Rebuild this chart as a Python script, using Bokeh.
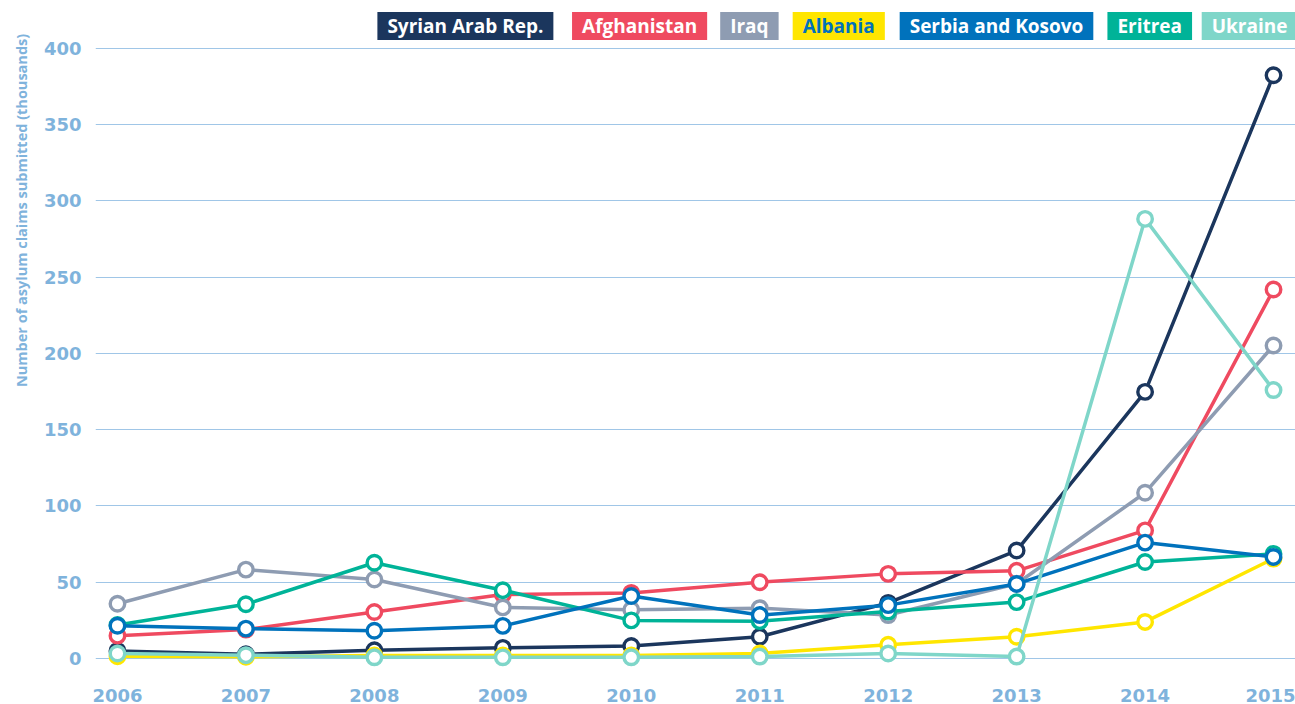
import math
from bokeh.plotting import figure
from bokeh.layouts import row
from bokeh.models import Range1d, Label, FixedTicker, ColumnDataSource
from bokeh.embed import file_html
from bokeh.resources import INLINE

# ---------------- data (thousands of asylum claims) ----------------
years = [2006, 2007, 2008, 2009, 2010, 2011, 2012, 2013, 2014, 2015]

syria       = [5.0, 2.8, 5.4, 7.0, 8.2, 14.3, 36.5, 70.8, 174.8, 382.4]
afghanistan = [15.0, 19.0, 30.5, 42.0, 43.0, 50.0, 55.5, 57.5, 84.0, 241.9]
iraq        = [35.9, 58.3, 51.8, 33.5, 32.0, 33.0, 28.5, 49.0, 108.7, 205.2]
albania     = [1.5, 1.2, 2.0, 2.0, 2.0, 3.3, 9.0, 14.3, 24.0, 65.5]
serbia      = [21.5, 19.6, 18.2, 21.4, 41.0, 28.5, 35.0, 48.9, 76.0, 66.6]
eritrea     = [22.0, 35.6, 62.8, 44.8, 25.0, 24.5, 30.8, 37.0, 63.3, 68.6]
ukraine     = [3.3, 2.2, 0.8, 0.8, 0.8, 1.3, 3.3, 1.3, 288.2, 176.0]

series_names = ["Syrian Arab Rep.", "Afghanistan", "Iraq", "Albania",
                "Serbia and Kosovo", "Eritrea", "Ukraine"]
series_values = [syria, afghanistan, iraq, albania, serbia, eritrea, ukraine]
series_colors = ["#1B365D", "#EF4A60", "#8E9CB2", "#FFE600",
                 "#0072BC", "#00B398", "#7FD6C9"]
legend_text_colors = ["white", "white", "white", "#0072BC",
                      "white", "white", "white"]
# drawing order (later = on top)
draw_order = [0, 1, 2, 3, 5, 4, 6]

y_ticks = [0, 50, 100, 150, 200, 250, 300, 350, 400]
y_title = "Number of asylum claims submitted (thousands)"

# ---------------- styling / layout ----------------
TICK_COLOR = "#7FB3DC"
GRID_COLOR = "#A0C6E7"
FONT = "Open Sans"
TICK_FONT = "DejaVu Sans"

PAGE_W, PAGE_H = 1295, 704
TITLE_W = 40                 # narrow strip holding the rotated y title
FRAME_L, FRAME_B = 93, 672   # frame left / bottom (page px)
X0_PX, X1_PX = 115, 1273     # px of first / last year
Y0_PX, Y400_PX = 660, 48     # px of 0 and 400

ppy = (X1_PX - X0_PX) / (years[-1] - years[0])
ppu = (Y0_PX - Y400_PX) / 400.0
x_start = years[0] - (X0_PX - FRAME_L) / ppy
x_end = years[-1] + (PAGE_W - X1_PX) / ppy
y_start = -(FRAME_B - Y0_PX) / ppu
y_end = Y0_PX / ppu


def dx(px):
    return years[0] + (px - X0_PX) / ppy


def dy(py):
    return (Y0_PX - py) / ppu


p = figure(width=PAGE_W - TITLE_W, height=PAGE_H, output_backend="svg",
           toolbar_location=None,
           x_range=Range1d(x_start, x_end), y_range=Range1d(y_start, y_end),
           min_border_left=FRAME_L - TITLE_W, min_border_right=0,
           min_border_top=0, min_border_bottom=PAGE_H - FRAME_B)
p.outline_line_color = None
p.background_fill_color = "white"
p.border_fill_color = "white"

p.xgrid.grid_line_color = None
p.ygrid.grid_line_color = GRID_COLOR
p.ygrid.grid_line_width = 1
p.yaxis.ticker = FixedTicker(ticks=y_ticks)
p.xaxis.ticker = FixedTicker(ticks=years)

for ax in (p.xaxis, p.yaxis):
    ax.axis_line_color = None
    ax.major_tick_line_color = None
    ax.minor_tick_line_color = None
    ax.major_label_text_color = TICK_COLOR
    ax.major_label_text_font = TICK_FONT
    ax.major_label_text_font_style = "bold"
    ax.major_label_text_font_size = "18px"
p.yaxis.major_label_standoff = 8
p.xaxis.major_label_standoff = 12

for i in draw_order:
    src = ColumnDataSource(dict(x=years, y=series_values[i]))
    p.line("x", "y", source=src, line_color=series_colors[i], line_width=3.5)
    p.scatter("x", "y", source=src, size=14.5, marker="circle",
              fill_color="white", line_color=series_colors[i], line_width=3.4)

# legend: coloured boxes with labels (inside the frame, above the 400 line)
legend_center = [463.5, 638, 748, 837.5, 995.5, 1149, 1249]
for name, col, tcol, cx in zip(series_names, series_colors,
                               legend_text_colors, legend_center):
    p.add_layout(Label(x=dx(cx), y=dy(25.5), text=name,
                       text_align="center", text_baseline="middle",
                       text_font=FONT, text_font_style="bold",
                       text_font_size="19px", text_color=tcol,
                       background_fill_color=col,
                       padding=dict(left=10, right=10, top=1, bottom=1)))

# left strip with the rotated y-axis title
t = figure(width=TITLE_W, height=PAGE_H, output_backend="svg",
           toolbar_location=None, x_axis_type=None, y_axis_type=None,
           x_range=Range1d(0, TITLE_W), y_range=Range1d(0, PAGE_H),
           min_border=0)
t.outline_line_color = None
t.xgrid.grid_line_color = None
t.ygrid.grid_line_color = None
t.add_layout(Label(x=21, y=PAGE_H - 35, text=y_title, angle=math.pi / 2,
                   text_align="right", text_baseline="middle",
                   text_font=FONT, text_font_style="bold",
                   text_font_size="14.5px", text_color=TICK_COLOR))

layout = row(t, p, spacing=0)
open("out.html", "w").write(file_html(layout, INLINE))
